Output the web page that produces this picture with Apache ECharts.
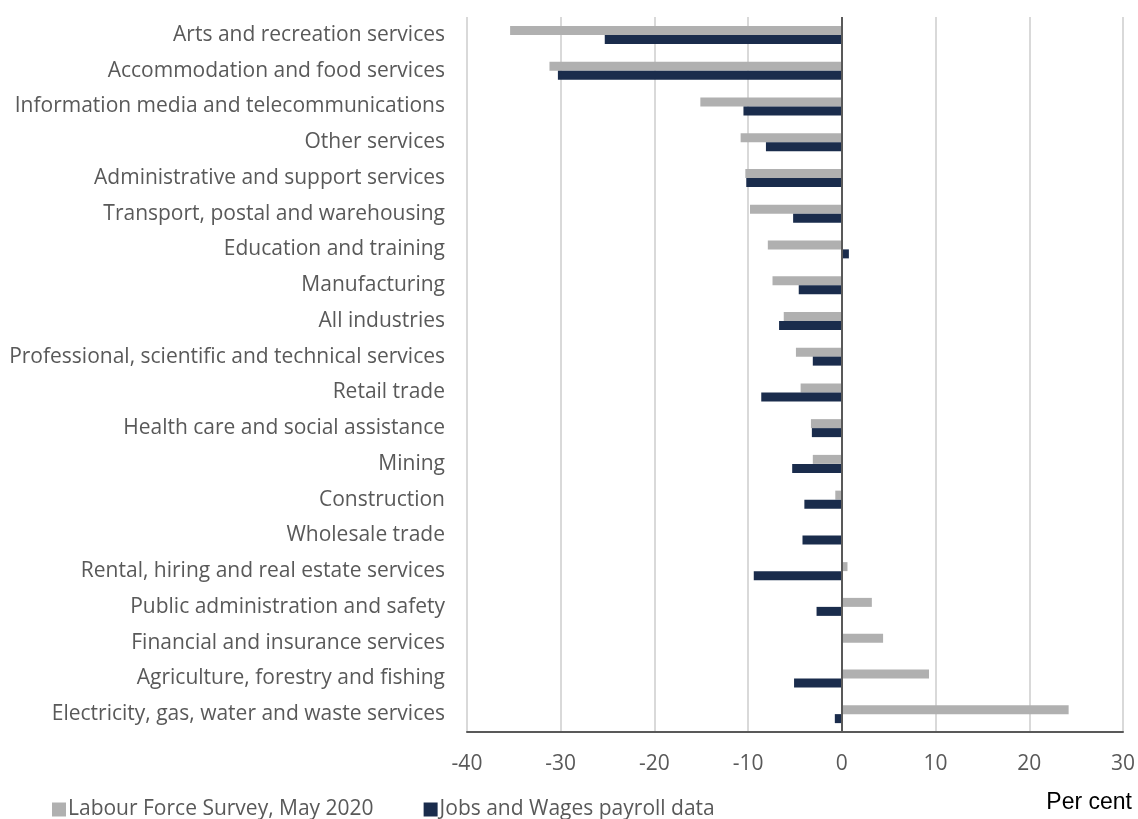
<!DOCTYPE html>
<html><head><meta charset="utf-8">
<script src="https://cdn.jsdelivr.net/npm/echarts@6/dist/echarts.min.js"></script>
<style>html,body{margin:0;padding:0;background:#fff}#c{width:1138px;height:819px}</style>
</head><body><div id="c"></div>
<script>
const categories = [
  "Arts and recreation services",
  "Accommodation and food services",
  "Information media and telecommunications",
  "Other services",
  "Administrative and support services",
  "Transport, postal and warehousing",
  "Education and training",
  "Manufacturing",
  "All industries",
  "Professional, scientific and technical services",
  "Retail trade",
  "Health care and social assistance",
  "Mining",
  "Construction",
  "Wholesale trade",
  "Rental, hiring and real estate services",
  "Public administration and safety",
  "Financial and insurance services",
  "Agriculture, forestry and fishing",
  "Electricity, gas, water and waste services"
];
const labourForceSurvey = [-35.4, -31.2, -15.1, -10.8, -10.3, -9.8, -7.9, -7.4, -6.2, -4.9, -4.4, -3.3, -3.1, -0.7, 0.0, 0.6, 3.2, 4.4, 9.3, 24.2];
const jobsAndWages = [-25.3, -30.3, -10.5, -8.1, -10.2, -5.2, 0.75, -4.6, -6.7, -3.1, -8.6, -3.2, -5.3, -4.0, -4.2, -9.4, -2.7, 0.0, -5.1, -0.75];
const xTicks = [-40, -30, -20, -10, 0, 10, 20, 30];
const seriesNames = ["Labour Force Survey, May 2020", "Jobs and Wages payroll data"];

const chart = echarts.init(document.getElementById('c'), null, {renderer: 'canvas'});
const txt = '#595959';
const font = '"Open Sans", sans-serif';
chart.setOption({
  animation: false,
  backgroundColor: '#fff',
  textStyle: {fontFamily: font},
  grid: {left: 467, right: 15, top: 17, bottom: 87, containLabel: false},
  legend: {
    left: 47, top: 794, itemWidth: 14, itemHeight: 14, itemGap: 50,
    icon: 'rect',
    textStyle: {color: txt, fontSize: 21, fontFamily: font, padding: [0, 0, 0, -3]},
    data: seriesNames
  },
  graphic: [{
    type: 'text', right: 6, top: 791,
    style: {text: 'Per cent', fill: '#000', font: '23px "Liberation Sans", Arial, sans-serif'}
  }],
  xAxis: {
    type: 'value', min: xTicks[0], max: xTicks[xTicks.length - 1], interval: 10,
    axisLine: {show: true, onZero: false, lineStyle: {color: '#595959', width: 2}},
    axisTick: {show: false},
    axisLabel: {color: txt, fontSize: 21, fontFamily: font, margin: 22},
    splitLine: {show: true, lineStyle: {color: '#d9d9d9', width: 2}}
  },
  yAxis: {
    type: 'category', data: categories, inverse: true,
    axisLine: {show: false}, axisTick: {show: false},
    axisLabel: {color: txt, fontSize: 21, fontFamily: font, margin: 22}
  },
  series: [
    {
      name: seriesNames[0], type: 'bar', data: labourForceSurvey,
      barWidth: 9, barGap: '0%',
      itemStyle: {color: '#b0b0b0'},
      markLine: {
        silent: true, symbol: 'none', label: {show: false},
        lineStyle: {color: '#595959', width: 2, type: 'solid'},
        data: [{xAxis: 0}]
      }
    },
    {
      name: seriesNames[1], type: 'bar', data: jobsAndWages,
      barWidth: 9, barGap: '0%',
      itemStyle: {color: '#1a2c4c'}
    }
  ]
});
</script></body></html>
